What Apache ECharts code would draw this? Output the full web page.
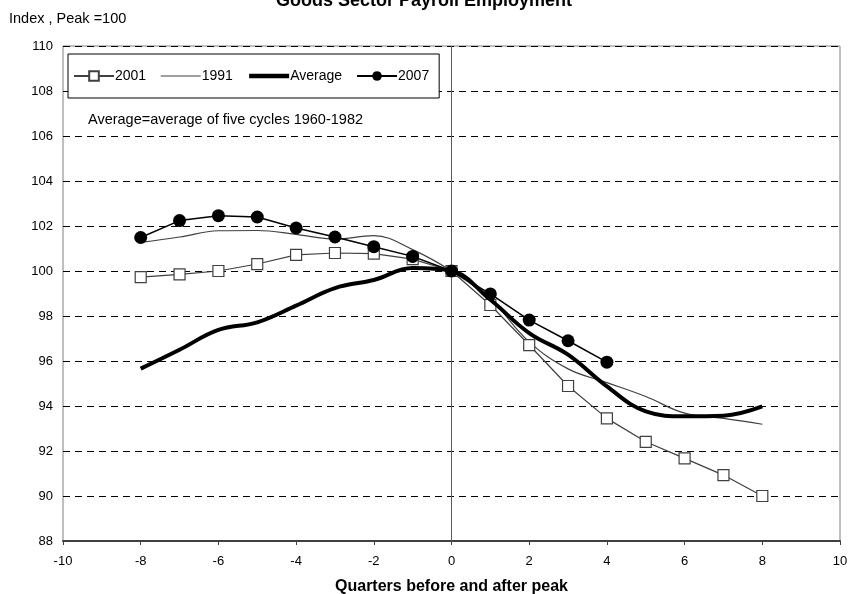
<!DOCTYPE html>
<html>
<head>
<meta charset="utf-8">
<script src="https://cdn.jsdelivr.net/npm/echarts@6/dist/echarts.min.js"></script>
<style>
  html, body { margin: 0; padding: 0; background: #fff; }
  #chart { width: 848px; height: 594px; }
</style>
</head>
<body>
<div id="chart"></div>
<script>
// quarters before / after peak
var quarters = [-8, -7, -6, -5, -4, -3, -2, -1, 0, 1, 2, 3, 4, 5, 6, 7, 8];
var y2001 = [99.73, 99.85, 100.0, 100.31, 100.72, 100.8, 100.77, 100.53, 100, 98.49, 96.71, 94.89, 93.45, 92.41, 91.67, 90.93, 90.0];
var y1991 = [101.27, 101.51, 101.79, 101.8, 101.63, 101.42, 101.57, 100.95, 100, 98.75, 96.85, 95.65, 95.04, 94.42, 93.68, 93.45, 93.19];
var yAverage = [95.66, 96.5, 97.38, 97.72, 98.46, 99.24, 99.6, 100.13, 100, 98.72, 97.24, 96.28, 94.87, 93.76, 93.54, 93.57, 93.98];
var y2007 = [101.49, 102.24, 102.46, 102.4, 101.91, 101.51, 101.08, 100.65, 100, 98.98, 97.82, 96.9, 95.95];

function pairs(ys) {
  return ys.map(function (v, i) { return [quarters[i], v]; });
}

var font = 'Liberation Sans, Arial, sans-serif';
var myChart = echarts.init(document.getElementById('chart'));
var option = {
  animation: false,
  backgroundColor: '#fff',
  grid: {
    left: 63, right: 8, top: 46, bottom: 53,
    outerBoundsMode: 'none',
    show: true, borderColor: '#808080', borderWidth: 1
  },
  legend: {
    left: 68, top: 54,
    width: 369, height: 46,
    padding: [15, 10, 15, 5],
    itemGap: 14,
    itemWidth: 40,
    itemHeight: 12,
    borderColor: '#000',
    borderWidth: 1,
    borderRadius: 0,
    backgroundColor: '#fff',
    textStyle: { fontFamily: font, fontSize: 14, color: '#000', padding: [0, 0, 0, -4] },
    data: [
      { name: '2001' },
      { name: '1991', itemStyle: { opacity: 0 }, lineStyle: { width: 1.2, color: '#404040' } },
      { name: 'Average', itemStyle: { opacity: 0 }, lineStyle: { width: 4.5, color: '#000' } },
      { name: '2007' }
    ]
  },
  graphic: [
    {
      type: 'text', left: 'center', top: -8,
      style: { text: 'Goods Sector Payroll Employment', font: 'bold 18px ' + font, fill: '#000' }
    },
    {
      type: 'text', left: 9, top: 11,
      style: { text: 'Index , Peak =100', font: '14.5px ' + font, fill: '#000' }
    },
    {
      type: 'text', left: 88, top: 112,
      style: { text: 'Average=average of five cycles 1960-1982', font: '14.5px ' + font, fill: '#000' }
    }
  ],
  xAxis: {
    type: 'value',
    min: -10, max: 10, interval: 2,
    name: 'Quarters before and after peak',
    nameLocation: 'middle',
    nameGap: 38,
    nameTextStyle: { fontFamily: font, fontSize: 16, fontWeight: 'bold', color: '#000' },
    axisLine: { onZero: false, lineStyle: { color: '#404040', width: 2 } },
    axisTick: { show: true, length: 4, lineStyle: { color: '#404040' } },
    axisLabel: { fontFamily: font, fontSize: 13, color: '#000', margin: 14 },
    splitLine: { show: false }
  },
  yAxis: {
    type: 'value',
    min: 88, max: 110, interval: 2,
    axisLine: { show: true, lineStyle: { color: '#808080' } },
    axisTick: { show: false },
    axisLabel: { fontFamily: font, fontSize: 13, color: '#000', margin: 10 },
    splitLine: { show: true, lineStyle: { color: '#000', type: [7, 5], width: 1 } }
  },
  series: [
    {
      name: '2001', type: 'line', data: pairs(y2001),
      symbol: 'rect', symbolSize: 11,
      lineStyle: { color: '#404040', width: 1.2 },
      itemStyle: { color: '#fff', borderColor: '#404040', borderWidth: 1.2 },
      z: 3,
      markLine: {
        silent: true, symbol: 'none', label: { show: false },
        lineStyle: { color: '#606060', type: 'solid', width: 1 },
        data: [{ xAxis: 0 }]
      }
    },
    {
      name: '1991', type: 'line', data: pairs(y1991),
      symbol: 'none', smooth: 0.4,
      lineStyle: { color: '#404040', width: 1.2 },
      itemStyle: { color: '#404040' },
      z: 2
    },
    {
      name: 'Average', type: 'line', data: pairs(yAverage),
      symbol: 'none', smooth: 0.4,
      lineStyle: { color: '#000', width: 4 },
      itemStyle: { color: '#000' },
      z: 4
    },
    {
      name: '2007', type: 'line', data: pairs(y2007),
      symbol: 'circle', symbolSize: 13,
      lineStyle: { color: '#000', width: 1.5 },
      itemStyle: { color: '#000' },
      z: 5
    }
  ]
};
myChart.setOption(option);
</script>
</body>
</html>
